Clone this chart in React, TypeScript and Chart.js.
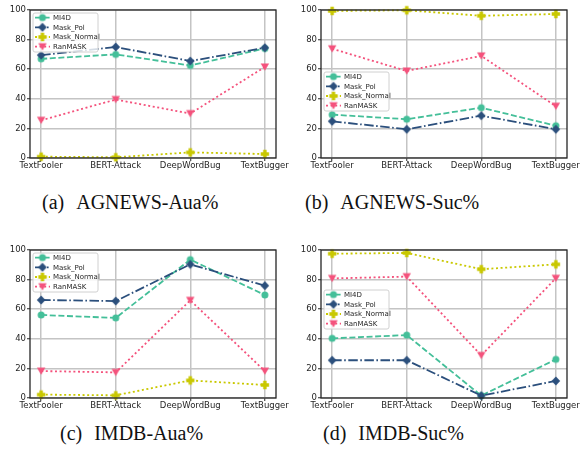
import React, { useEffect, useRef } from "react";
import { Chart, registerables } from "chart.js";

Chart.register(...registerables);

// ---------- data ----------
const categories = ["TextFooler", "BERT-Attack", "DeepWordBug", "TextBugger"];
const seriesNames = ["MI4D", "Mask_Pol", "Mask_Normal", "RanMASK"];
const yTicks = [0, 20, 40, 60, 80, 100];

const agnewsAuaMI4D = [67, 70, 62.5, 74];
const agnewsAuaMaskPol = [69.5, 75, 65.5, 74.5];
const agnewsAuaMaskNormal = [0.9, 0.5, 3.8, 2.7];
const agnewsAuaRanMASK = [25.5, 39.5, 30, 61.5];

const agnewsSucMI4D = [29.3, 26.2, 34, 21.8];
const agnewsSucMaskPol = [24.8, 19.4, 28.6, 19.4];
const agnewsSucMaskNormal = [99.4, 99.8, 96.1, 97.3];
const agnewsSucRanMASK = [73.8, 58.8, 69, 35];

const imdbAuaMI4D = [56.1, 54.1, 93.5, 69.6];
const imdbAuaMaskPol = [66.2, 65.5, 90.3, 75.9];
const imdbAuaMaskNormal = [2.3, 1.8, 11.9, 8.8];
const imdbAuaRanMASK = [18.2, 17.3, 66, 18.2];

const imdbSucMI4D = [40.3, 42.5, 1.6, 26.1];
const imdbSucMaskPol = [25.5, 25.5, 1.6, 11.5];
const imdbSucMaskNormal = [97.5, 98, 87, 90.3];
const imdbSucRanMASK = [80.8, 82, 28.8, 80.9];

const panelTitles = ["AGNEWS-Aua%", "AGNEWS-Suc%", "IMDB-Aua%", "IMDB-Suc%"];
const panelTags = ["(a)", "(b)", "(c)", "(d)"];
const panelSeries = [
  [agnewsAuaMI4D, agnewsAuaMaskPol, agnewsAuaMaskNormal, agnewsAuaRanMASK],
  [agnewsSucMI4D, agnewsSucMaskPol, agnewsSucMaskNormal, agnewsSucRanMASK],
  [imdbAuaMI4D, imdbAuaMaskPol, imdbAuaMaskNormal, imdbAuaRanMASK],
  [imdbSucMI4D, imdbSucMaskPol, imdbSucMaskNormal, imdbSucRanMASK],
];

// ---------- styles ----------
const seriesColors = ["#44bf99", "#2b4f7c", "#c9c800", "#f4527c"];
const seriesDash: number[][] = [[6, 2.6], [9.5, 2.5, 1.6, 2.5], [2, 2.6], [2, 2.6]];
const seriesMarkers = ["circle", "diamond", "plus", "tri"];
const legendTops = [3, 62, 3, 40];
const panelPos = [
  { left: 0, top: 0 },
  { left: 291, top: 0 },
  { left: 0, top: 240 },
  { left: 291, top: 240 },
];
const captionPos = [
  { left: 42, top: 192 },
  { left: 305, top: 192 },
  { left: 60, top: 423 },
  { left: 323, top: 423 },
];

function makeMarker(kind: string, color: string): HTMLCanvasElement {
  const c = document.createElement("canvas");
  const s = 12;
  c.width = s;
  c.height = s;
  const g = c.getContext("2d")!;
  g.fillStyle = color;
  const m = s / 2;
  g.beginPath();
  if (kind === "circle") {
    g.arc(m, m, 3.5, 0, Math.PI * 2);
  } else if (kind === "diamond") {
    g.moveTo(m, m - 4.6);
    g.lineTo(m + 4.3, m);
    g.lineTo(m, m + 4.6);
    g.lineTo(m - 4.3, m);
    g.closePath();
  } else if (kind === "plus") {
    const a = 4.2, t = 1.7;
    g.moveTo(m - t, m - a);
    g.lineTo(m + t, m - a);
    g.lineTo(m + t, m - t);
    g.lineTo(m + a, m - t);
    g.lineTo(m + a, m + t);
    g.lineTo(m + t, m + t);
    g.lineTo(m + t, m + a);
    g.lineTo(m - t, m + a);
    g.lineTo(m - t, m + t);
    g.lineTo(m - a, m + t);
    g.lineTo(m - a, m - t);
    g.lineTo(m - t, m - t);
    g.closePath();
  } else {
    g.moveTo(m - 4.2, m - 3.4);
    g.lineTo(m + 4.2, m - 3.4);
    g.lineTo(m, m + 3.8);
    g.closePath();
  }
  g.fill();
  return c;
}

const framePlugin = {
  id: "frameLegend",
  afterDraw(chart: any, _args: any, opts: any) {
    const { ctx, chartArea: a } = chart;
    ctx.save();
    ctx.setLineDash([]);
    ctx.strokeStyle = "#262626";
    ctx.lineWidth = 1.3;
    ctx.strokeRect(a.left, a.top, a.right - a.left, a.bottom - a.top);

    // legend
    const bx = a.left + 3;
    const by = a.top + (opts.legendTop || 0);
    const bw = 65;
    const bh = 39;
    ctx.beginPath();
    if ((ctx as any).roundRect) (ctx as any).roundRect(bx, by, bw, bh, 2);
    else ctx.rect(bx, by, bw, bh);
    ctx.fillStyle = "rgba(255,255,255,0.8)";
    ctx.fill();
    ctx.strokeStyle = "#d0d0d0";
    ctx.lineWidth = 1;
    ctx.stroke();
    ctx.font = "7px 'DejaVu Sans'";
    ctx.textBaseline = "middle";
    chart.data.datasets.forEach((ds: any, i: number) => {
      const ry = by + 4.6 + i * 9.7;
      ctx.beginPath();
      ctx.setLineDash(ds.borderDash || []);
      ctx.strokeStyle = ds.borderColor;
      ctx.lineWidth = ds.borderWidth;
      ctx.moveTo(bx + 2, ry);
      ctx.lineTo(bx + 17, ry);
      ctx.stroke();
      ctx.setLineDash([]);
      const img = ds.pointStyle as HTMLCanvasElement;
      ctx.drawImage(img, bx + 9.5 - img.width / 2, ry - img.height / 2);
      ctx.fillStyle = "#262626";
      ctx.fillText(ds.label, bx + 20, ry + 0.5);
    });
    ctx.restore();
  },
};

function Panel({ index }: { index: number }) {
  const ref = useRef<HTMLCanvasElement | null>(null);
  useEffect(() => {
    if (!ref.current) return;
    const series = panelSeries[index];
    const datasets = seriesNames.map((name, i) => ({
      label: name,
      data: series[i].map((v, k) => ({ x: k, y: v })),
      borderColor: seriesColors[i],
      backgroundColor: seriesColors[i],
      borderWidth: 1.8,
      borderDash: seriesDash[i],
      pointStyle: makeMarker(seriesMarkers[i], seriesColors[i]),
      pointRadius: 4,
      pointHoverRadius: 4,
      tension: 0,
      fill: false,
      clip: false as any,
      order: 3 - i,
    }));
    const chart = new Chart(ref.current, {
      type: "line",
      data: { datasets },
      plugins: [framePlugin as any],
      options: {
        responsive: false,
        animation: false,
        events: [],
        layout: { padding: { left: 0, top: 10, right: 15, bottom: 0 } },
        plugins: {
          legend: { display: false },
          tooltip: { enabled: false },
          frameLegend: { legendTop: legendTops[index] },
        } as any,
        scales: {
          x: {
            type: "linear",
            min: -0.15,
            max: 3.15,
            afterBuildTicks: (scale: any) => {
              scale.ticks = categories.map((_, k) => ({ value: k }));
            },
            afterFit: (scale: any) => {
              scale.height = 22;
            },
            ticks: {
              callback: (v: any) => categories[v as number] ?? "",
              color: "#262626",
              font: { family: "DejaVu Sans", size: 8.5 },
              padding: 0,
              maxRotation: 0,
              autoSkip: false,
            },
            grid: {
              color: "#c4c4c4",
              lineWidth: 1.5,
              tickLength: 3,
              tickColor: "#262626",
              tickWidth: 1,
            },
            border: { display: false },
          },
          y: {
            type: "linear",
            min: 0,
            max: 100,
            afterBuildTicks: (scale: any) => {
              scale.ticks = yTicks.map((v) => ({ value: v }));
            },
            afterFit: (scale: any) => {
              scale.width = 30;
            },
            ticks: {
              color: "#262626",
              font: { family: "DejaVu Sans", size: 8.5 },
              padding: 1,
            },
            grid: {
              color: "#c4c4c4",
              lineWidth: 1.5,
              tickLength: 3,
              tickColor: "#262626",
              tickWidth: 1,
            },
            border: { display: false },
          },
        },
      },
    });
    return () => chart.destroy();
  }, [index]);
  const p = panelPos[index];
  return (
    <canvas
      ref={ref}
      width={291}
      height={180}
      style={{ position: "absolute", left: p.left, top: p.top, width: 291, height: 180 }}
    />
  );
}

export default function App() {
  return (
    <div
      style={{
        position: "absolute",
        left: 0,
        top: 0,
        width: 582,
        height: 456,
        background: "#ffffff",
        overflow: "hidden",
      }}
    >
      {panelTitles.map((_, i) => (
        <Panel key={i} index={i} />
      ))}
      {panelTitles.map((t, i) => (
        <div
          key={"c" + i}
          style={{
            position: "absolute",
            left: captionPos[i].left,
            top: captionPos[i].top,
            fontFamily: "'Liberation Serif', 'Times New Roman', serif",
            fontSize: 20,
            lineHeight: "20px",
            whiteSpace: "nowrap",
            color: "#111",
          }}
        >
          <span>{panelTags[i]}</span>
          <span style={{ marginLeft: 12 }}>{t}</span>
        </div>
      ))}
    </div>
  );
}
